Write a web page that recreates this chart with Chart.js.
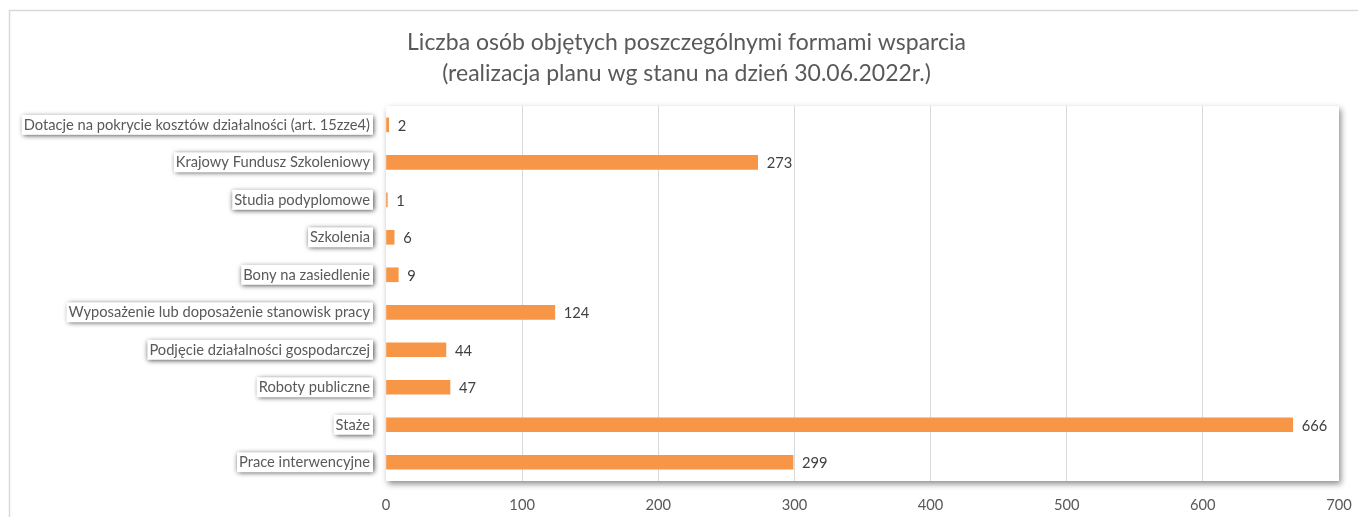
<!DOCTYPE html>
<html lang="pl">
<head>
<meta charset="utf-8">
<title>Liczba osób objętych poszczególnymi formami wsparcia</title>
<script src="https://cdn.jsdelivr.net/npm/chart.js@4"></script>
<style>
    html, body { margin: 0; padding: 0; background: #ffffff; }
    #wrap { width: 1358px; height: 517px; position: relative; }
</style>
</head>
<body>
<div id="wrap"><canvas id="supportChart" width="1358" height="517"></canvas></div>
<script>
// data (top to bottom)
var categories = [
    'Dotacje na pokrycie kosztów działalności (art. 15zze4)',
    'Krajowy Fundusz Szkoleniowy',
    'Studia podyplomowe',
    'Szkolenia',
    'Bony na zasiedlenie',
    'Wyposażenie lub doposażenie stanowisk pracy',
    'Podjęcie działalności gospodarczej',
    'Roboty publiczne',
    'Staże',
    'Prace interwencyjne'
];
var values = [2, 273, 1, 6, 9, 124, 44, 47, 666, 299];
var xTicks = [0, 100, 200, 300, 400, 500, 600, 700];
var titleLines = [
    'Liczba osób objętych poszczególnymi formami wsparcia',
    '(realizacja planu wg stanu na dzień 30.06.2022r.)'
];

var fontFamily = 'Lato, "Open Sans", sans-serif';
var labelSize = 14.7;
var textColor = '#595959';

document.addEventListener('DOMContentLoaded', function () {

    // outer frame, plot-area shadow, boxed category labels, value labels
    var decorPlugin = {
        id: 'decor',
        afterLayout: function (chart) {
            // title in the original is centred a bit right of the canvas middle
            if (chart.titleBlock) {
                chart.titleBlock.left += 10;
                chart.titleBlock.right += 10;
            }
        },
        beforeDraw: function (chart) {
            var ctx = chart.ctx;
            var area = chart.chartArea;
            ctx.save();
            ctx.strokeStyle = '#d9d9d9';
            ctx.lineWidth = 1.5;
            ctx.beginPath();
            ctx.moveTo(9.5, chart.height);
            ctx.lineTo(9.5, 10.5);
            ctx.lineTo(chart.width, 10.5);
            ctx.stroke();

            // plot area with soft shadow
            ctx.shadowColor = 'rgba(0,0,0,0.45)';
            ctx.shadowBlur = 6;
            ctx.shadowOffsetX = 2;
            ctx.shadowOffsetY = 3;
            ctx.fillStyle = '#ffffff';
            ctx.fillRect(area.left, area.top, area.right - area.left, area.bottom - area.top);

            // label boxes
            var yScale = chart.scales.y;
            ctx.font = labelSize + 'px ' + fontFamily;
            ctx.shadowColor = 'rgba(0,0,0,0.75)';
            ctx.shadowBlur = 5;
            ctx.shadowOffsetX = 1;
            ctx.shadowOffsetY = 1;
            for (var i = 0; i < categories.length; i++) {
                var w = ctx.measureText(categories[i]).width;
                var yc = yScale.getPixelForValue(i);
                var right = area.left - 15;
                ctx.fillRect(right - w - 3, yc - 10, w + 5, 20);
            }
            ctx.restore();
        },
        afterDatasetsDraw: function (chart) {
            var ctx = chart.ctx;
            var meta = chart.getDatasetMeta(0);
            ctx.save();
            ctx.font = labelSize + 'px ' + fontFamily;
            ctx.fillStyle = '#404040';
            ctx.textAlign = 'left';
            ctx.textBaseline = 'middle';
            meta.data.forEach(function (bar, i) {
                ctx.fillText(String(values[i]), bar.x + 9, bar.y + 1);
            });
            ctx.restore();
        }
    };

    var ctx1 = document.getElementById('supportChart').getContext('2d');
    var supportChart = new Chart(ctx1, {
        type: 'bar',
        data: {
            labels: categories,
            datasets: [{
                label: 'Liczba osób',
                data: values,
                backgroundColor: '#F79646',
                barThickness: 14
            }]
        },
        options: {
            indexAxis: 'y',
            responsive: false,
            animation: false,
            devicePixelRatio: 1,
            layout: {
                padding: { left: 14, right: 19, top: 27, bottom: 0 }
            },
            scales: {
                x: {
                    min: 0,
                    max: 700,
                    afterBuildTicks: function (scale) {
                        scale.ticks = xTicks.map(function (v) { return { value: v }; });
                    },
                    afterFit: function (scale) {
                        scale.height = 36;
                        scale.paddingLeft = 0;
                        scale.paddingRight = 0;
                    },
                    grid: {
                        color: function (c) {
                            return (c.tick && (c.tick.value === 0 || c.tick.value === 700)) ? 'rgba(0,0,0,0)' : '#d9d9d9';
                        },
                        drawTicks: false
                    },
                    border: { display: false },
                    ticks: {
                        color: textColor,
                        padding: 15,
                        font: { family: fontFamily, size: labelSize }
                    }
                },
                y: {
                    afterFit: function (scale) {
                        scale.width = 372;
                    },
                    grid: { display: false, drawTicks: false },
                    border: { display: false },
                    ticks: {
                        color: textColor,
                        padding: 16,
                        font: { family: fontFamily, size: labelSize }
                    }
                }
            },
            plugins: {
                legend: { display: false },
                tooltip: { enabled: false },
                title: {
                    display: true,
                    text: titleLines,
                    color: textColor,
                    padding: { top: 0, bottom: 17 },
                    font: { family: fontFamily, size: 23, weight: 'normal', lineHeight: 1.35 }
                }
            }
        },
        plugins: [decorPlugin]
    });
});
</script>
</body>
</html>
